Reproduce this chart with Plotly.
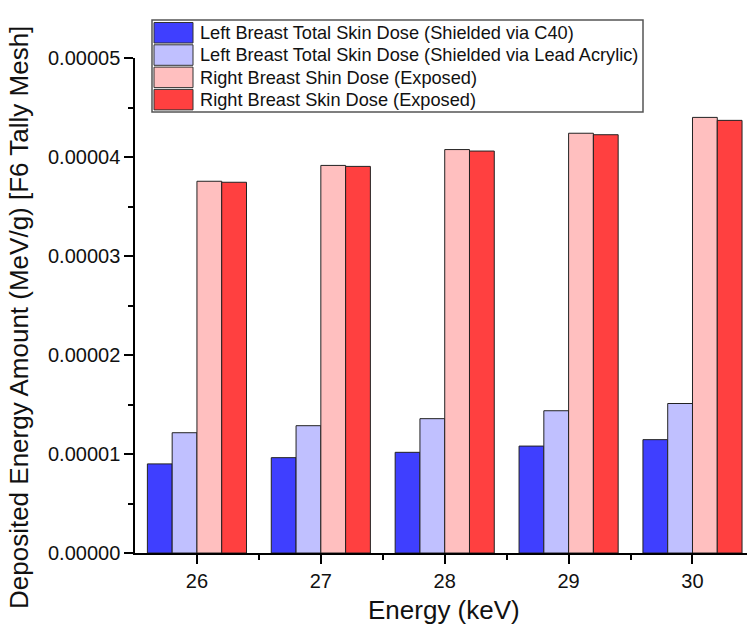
import plotly.graph_objects as go

energies = [26, 27, 28, 29, 30]
series_names = [
    "Left Breast Total Skin Dose (Shielded via C40)",
    "Left Breast Total Skin Dose (Shielded via Lead Acrylic)",
    "Right Breast Shin Dose (Exposed)",
    "Right Breast Skin Dose (Exposed)",
]
c40 = [0.90e-5, 0.963e-5, 1.017e-5, 1.08e-5, 1.145e-5]
lead_acrylic = [1.215e-5, 1.286e-5, 1.357e-5, 1.437e-5, 1.51e-5]
right_shin = [3.755e-5, 3.915e-5, 4.075e-5, 4.24e-5, 4.40e-5]
right_skin = [3.745e-5, 3.905e-5, 4.06e-5, 4.225e-5, 4.37e-5]
series_values = [c40, lead_acrylic, right_shin, right_skin]
colors = ["#3F3FFF", "#C0C0FF", "#FFBFBF", "#FF4040"]

y_ticks = [0, 1e-5, 2e-5, 3e-5, 4e-5, 5e-5]
y_tick_text = ["0.00000", "0.00001", "0.00002", "0.00003", "0.00004", "0.00005"]

W, H = 747, 630
ML, MR, MT, MB = 135, 0, 58, 77
PW, PH = W - ML - MR, H - MT - MB

def px(x):
    return (x - ML) / PW

def py(y):
    return (MT + PH - y) / PH

FONT = "Liberation Sans, Arial, sans-serif"

fig = go.Figure()
for name, vals, col in zip(series_names, series_values, colors):
    fig.add_trace(go.Bar(
        x=energies, y=vals, name=name, showlegend=False,
        marker=dict(color=col, line=dict(color="#222222", width=1)),
    ))

# custom legend box (Origin-style large swatches)
shapes = [dict(type="rect", xref="paper", yref="paper",
               x0=px(152), x1=px(643), y0=py(112), y1=py(20),
               line=dict(color="#555555", width=1.5), fillcolor="white", layer="above")]
annotations = []
row_top = 22.5
pitch = 22.3
for i, (name, col) in enumerate(zip(series_names, colors)):
    t = row_top + i * pitch
    shapes.append(dict(type="rect", xref="paper", yref="paper",
                       x0=px(154), x1=px(193), y0=py(t + 20.5), y1=py(t),
                       line=dict(color="#333333", width=1), fillcolor=col, layer="above"))
    annotations.append(dict(xref="paper", yref="paper", x=px(198), y=py(t + 10.5),
                            text=name, showarrow=False, xanchor="left", yanchor="middle",
                            font=dict(family=FONT, size=18.2, color="#111111")))

annotations.append(dict(xref="paper", yref="paper", x=px(444), y=py(610),
                        text="Energy (keV)", showarrow=False, xanchor="center", yanchor="middle",
                        font=dict(family=FONT, size=26, color="#111111")))
annotations.append(dict(xref="paper", yref="paper", x=px(19), y=py(318),
                        text="Deposited Energy Amount (MeV/g) [F6 Tally Mesh]", textangle=-90,
                        showarrow=False, xanchor="center", yanchor="middle",
                        font=dict(family=FONT, size=26, color="#111111")))

fig.update_layout(
    width=W, height=H,
    margin=dict(l=ML, r=MR, t=MT, b=MB, autoexpand=False),
    paper_bgcolor="white", plot_bgcolor="white",
    barmode="group", bargap=0.2, bargroupgap=0,
    shapes=shapes, annotations=annotations,
    font=dict(family=FONT, color="#111111"),
)
fig.update_xaxes(
    range=[25.5, 30.44], tickmode="array", tickvals=energies,
    ticktext=[str(e) for e in energies],
    showline=True, linecolor="black", linewidth=1.5,
    ticks="outside", ticklen=9, tickwidth=1.5, tickcolor="black",
    tickfont=dict(family=FONT, size=20, color="#111111"),
    showgrid=False, zeroline=False,
    minor=dict(tickmode="array", tickvals=[26.5, 27.5, 28.5, 29.5],
               ticks="outside", ticklen=5, tickwidth=1.5, tickcolor="black", showgrid=False),
)
fig.update_yaxes(
    range=[0, 5e-5], tickmode="array", tickvals=y_ticks, ticktext=y_tick_text,
    showline=True, linecolor="black", linewidth=1.5,
    ticks="outside", ticklen=9, tickwidth=1.5, tickcolor="black",
    tickfont=dict(family=FONT, size=20, color="#111111"),
    showgrid=False, zeroline=False,
    minor=dict(tickmode="array", tickvals=[0.5e-5, 1.5e-5, 2.5e-5, 3.5e-5, 4.5e-5],
               ticks="outside", ticklen=5, tickwidth=1.5, tickcolor="black", showgrid=False),
)

fig.write_html("out.html")
